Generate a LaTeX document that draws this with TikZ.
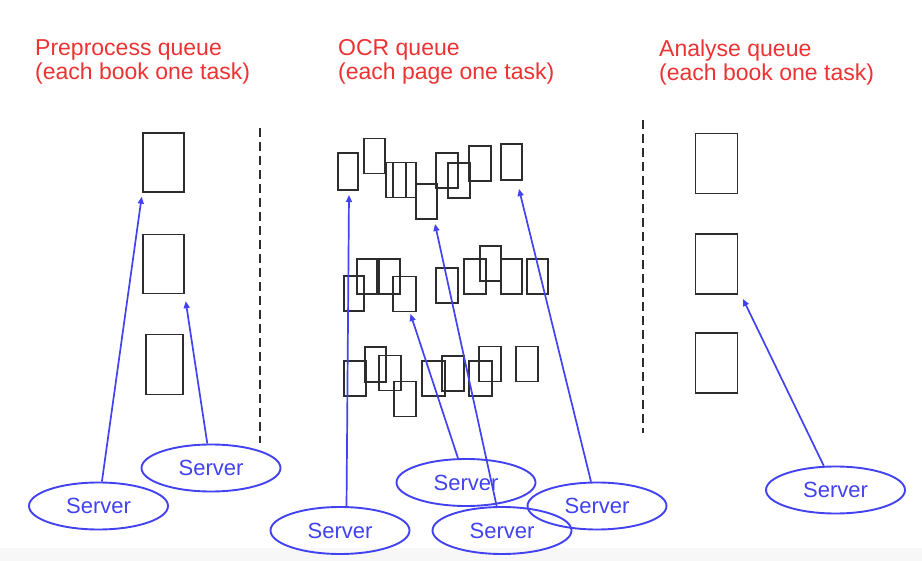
\documentclass[tikz,border=0pt]{standalone}
\usepackage{fontspec}
\setmainfont{Liberation Sans}
\usetikzlibrary{shapes.geometric,arrows.meta}

\definecolor{queuered}{RGB}{236,50,50}
\definecolor{serverblue}{RGB}{66,66,240}
\definecolor{boxgray}{RGB}{45,45,45}

\tikzset{
    title/.style={text=queuered, align=left, anchor=north west, inner sep=0pt,
        font=\fontsize{23}{24}\selectfont},
    bookbox/.style={draw=boxgray, line width=1.7pt, inner sep=0pt, outer sep=0pt,
        minimum width=41pt, minimum height=59pt},
    pagebox/.style={draw=boxgray, line width=1.6pt, inner sep=0pt, outer sep=0pt,
        minimum width=21.5pt, minimum height=35pt},
    server/.style={ellipse, draw=serverblue, line width=1.9pt, text=serverblue,
        inner sep=0pt, minimum width=139pt, minimum height=47pt,
        font=\fontsize{22}{24}\selectfont},
    srvarrow/.style={draw=serverblue, line width=1.7pt,
        -{Triangle[length=7pt,width=6pt]}},
    divider/.style={draw=boxgray, line width=2pt, dash pattern=on 9pt off 5pt}
}

\begin{document}
\begin{tikzpicture}[x=1pt, y=-1pt]
        \useasboundingbox (0,0) rectangle (922,561);
        \fill[gray!6] (0,548) rectangle (922,561);

        % titles
        \node[title] (tpre) at (35,39.5) {Preprocess queue\\(each book one task)};
        \node[title] (tocr) at (338,39.5) {OCR queue\\(each page one task)};
        \node[title] (tana) at (659,39.5) {Analyse queue\\(each book one task)};

        % dividers
        \coordinate (D1) at (260,128);
        \coordinate (D2) at (260,443);
        \coordinate (D3) at (642.7,120);
        \coordinate (D4) at (642.7,433);
        \draw[divider] (D1) -- (D2);
        \draw[divider] (D3) -- (D4);

        % preprocess queue
        \node[bookbox] (p1) at (163.5,162.5) {};
        \node[bookbox] (p2) at (163.5,264) {};
        \node[bookbox, minimum width=37pt, minimum height=60pt] (p3) at (164.5,364.5) {};

        % analyse queue
        \node[bookbox, minimum width=42pt, minimum height=60pt] (a1) at (716.5,163.5) {};
        \node[bookbox, minimum width=42pt, minimum height=60pt] (a2) at (716.5,264) {};
        \node[bookbox, minimum width=42pt, minimum height=60pt] (a3) at (716.5,363) {};

        % OCR queue, first book
        \node[pagebox, minimum width=20pt, minimum height=37pt] (b1) at (348,171.5) {};
        \node[pagebox] (b2) at (374.5,156) {};
        \node[pagebox, minimum width=20pt] (b3) at (396,180) {};
        \node[pagebox, minimum width=23pt] (b4) at (404.5,180) {};
        \node[pagebox] (b5) at (426.5,201.5) {};
        \node[pagebox] (b6) at (447,170.5) {};
        \node[pagebox] (b7) at (459,180.5) {};
        \node[pagebox] (b8) at (480,163.5) {};
        \node[pagebox, minimum height=36pt] (b9) at (511.5,162) {};

        % OCR queue, second book
        \node[pagebox, minimum width=20pt] (c1) at (354,293.5) {};
        \node[pagebox, minimum width=20pt] (c2) at (367,276.5) {};
        \node[pagebox] (c3) at (389.5,276.5) {};
        \node[pagebox, minimum width=23pt] (c4) at (404.5,294) {};
        \node[pagebox] (c5) at (447,285.5) {};
        \node[pagebox] (c6) at (475,276.5) {};
        \node[pagebox] (c7) at (490.5,263.5) {};
        \node[pagebox] (c8) at (511.5,276.5) {};
        \node[pagebox, minimum width=20.5pt] (c9) at (537.5,276.5) {};

        % OCR queue, third book
        \node[pagebox] (d1) at (355,378.5) {};
        \node[pagebox] (d2) at (375.5,364.5) {};
        \node[pagebox] (d3) at (390,373) {};
        \node[pagebox] (d4) at (405,399) {};
        \node[pagebox, minimum width=22.5pt] (d5) at (433.5,378.5) {};
        \node[pagebox] (d6) at (453,373.5) {};
        \node[pagebox, minimum width=23pt] (d7) at (480.5,378.5) {};
        \node[pagebox] (d8) at (490,364) {};
        \node[pagebox] (d9) at (527,364) {};

        % servers
        \node[server] (s1) at (98.5,506) {Server};
        \node[server] (s2) at (211,468) {Server};
        \node[server] (s3) at (340,530.5) {Server};
        \node[server] (s4) at (466,482.5) {Server};
        \node[server] (s5) at (502,530.5) {Server};
        \node[server] (s6) at (597,506) {Server};
        \node[server] (s7) at (835.5,490) {Server};

        % servers pulling tasks
        \draw[srvarrow] (s1) -- ([xshift=-1.3pt,yshift=-4.7pt]p1.south west);
        \draw[srvarrow] (s2) -- ([xshift=1.7pt,yshift=-7.7pt]p2.south east);
        \draw[srvarrow] (s3.75) -- ([xshift=1pt,yshift=-5pt]b1.south);
        \draw[srvarrow] (s4) -- ([xshift=6pt,yshift=-2.5pt]c4.south);
        \draw[srvarrow] (s5) -- ([xshift=8.5pt,yshift=-5pt]b5.south);
        \draw[srvarrow] (s6) -- ([xshift=7.5pt,yshift=-9pt]b9.south);
        \draw[srvarrow] (s7) -- ([xshift=5.5pt,yshift=-5pt]a2.south east);
    \end{tikzpicture}
\end{document}
